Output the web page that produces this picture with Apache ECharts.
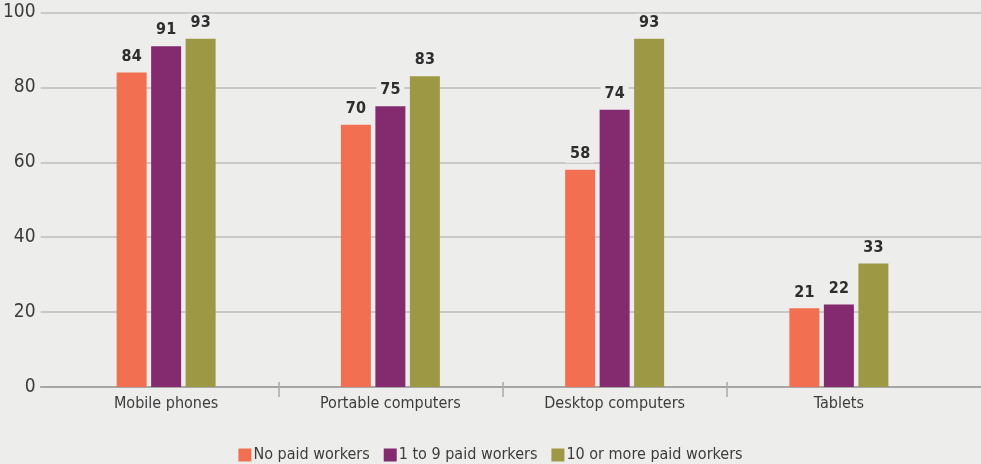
<!DOCTYPE html>
<html>
<head>
<meta charset="utf-8">
<script src="https://cdn.jsdelivr.net/npm/echarts@6/dist/echarts.min.js"></script>
<style>
  html, body { margin: 0; padding: 0; background: #ededec; }
  #chart { width: 981px; height: 464px; }
</style>
</head>
<body>
<div id="chart"></div>
<script>
// Device types and share of businesses using each, by workforce size
const categories = ['Mobile phones', 'Portable computers', 'Desktop computers', 'Tablets'];
const noPaid = [84, 70, 58, 21];
const oneToNine = [91, 75, 74, 22];
const tenOrMore = [93, 83, 93, 33];
const seriesNames = ['No paid workers', '1 to 9 paid workers', '10 or more paid workers'];
const yTicks = { min: 0, max: 100, interval: 20 };

const FONT = '"DejaVu Sans Condensed", "Liberation Sans Narrow", "Roboto", sans-serif';
const BG = '#ededec';
const colors = ['#f26f51', '#842a6f', '#9c9844'];

const chart = echarts.init(document.getElementById('chart'));

function barSeries(name, data, color) {
  return {
    name: name,
    type: 'bar',
    xAxisIndex: 1,
    yAxisIndex: 1,
    data: data,
    barWidth: 30,
    barGap: '15%',
    itemStyle: { color: color },
    label: {
      show: true,
      position: 'top',
      distance: 7,
      fontFamily: FONT,
      fontWeight: 'bold',
      fontSize: 16,
      color: '#2e2e2e',
      backgroundColor: BG,
      padding: [1, 4, 1, 4]
    }
  };
}

chart.setOption({
  backgroundColor: BG,
  animation: false,
  textStyle: { fontFamily: FONT },
  grid: [
    // full-width grid carrying the value gridlines
    { left: 40, right: 0, top: 12.5, bottom: 77, containLabel: false },
    // inner grid carrying the bars
    { left: 54, right: 30, top: 12.5, bottom: 77, containLabel: false }
  ],
  xAxis: [
    {
      gridIndex: 0, type: 'category', data: [''], position: 'bottom',
      axisLine: { show: true, lineStyle: { color: '#9a9a9a', width: 1.5 } },
      axisTick: { show: false }, axisLabel: { show: false }
    },
    {
      gridIndex: 1, type: 'category', data: categories, position: 'bottom',
      axisLine: { show: false },
      axisTick: { show: false },
      axisLabel: { fontFamily: FONT, fontSize: 16, color: '#3c3c3c', margin: 9 }
    },
    {
      // boundary ticks between categories, crossing the baseline
      gridIndex: 1, type: 'value', min: 0, max: categories.length,
      position: 'bottom', offset: -5,
      axisLine: { show: false },
      axisLabel: { show: false },
      splitLine: { show: false },
      axisTick: {
        show: true, length: 15,
        customValues: categories.slice(1).map((_, i) => i + 1),
        lineStyle: { color: '#a9a9a9', width: 1.5 }
      }
    }
  ],
  yAxis: [
    {
      gridIndex: 0, type: 'value', min: yTicks.min, max: yTicks.max, interval: yTicks.interval,
      axisLine: { show: false }, axisTick: { show: false },
      axisLabel: { fontFamily: FONT, fontSize: 19, color: '#3c3c3c', margin: 5 },
      splitLine: { lineStyle: { color: '#bdbdbd', width: 1.5 } }
    },
    {
      gridIndex: 1, type: 'value', min: yTicks.min, max: yTicks.max, interval: yTicks.interval,
      axisLine: { show: false }, axisTick: { show: false },
      axisLabel: { show: false }, splitLine: { show: false }
    }
  ],
  legend: {
    top: 442,
    left: 'center',
    itemWidth: 13,
    itemHeight: 13,
    itemGap: 14,
    icon: 'rect',
    textStyle: { fontFamily: FONT, fontSize: 16, color: '#3c3c3c', padding: [0, 0, 0, -3] },
    data: seriesNames
  },
  series: [
    barSeries(seriesNames[0], noPaid, colors[0]),
    barSeries(seriesNames[1], oneToNine, colors[1]),
    barSeries(seriesNames[2], tenOrMore, colors[2])
  ]
});
</script>
</body>
</html>
